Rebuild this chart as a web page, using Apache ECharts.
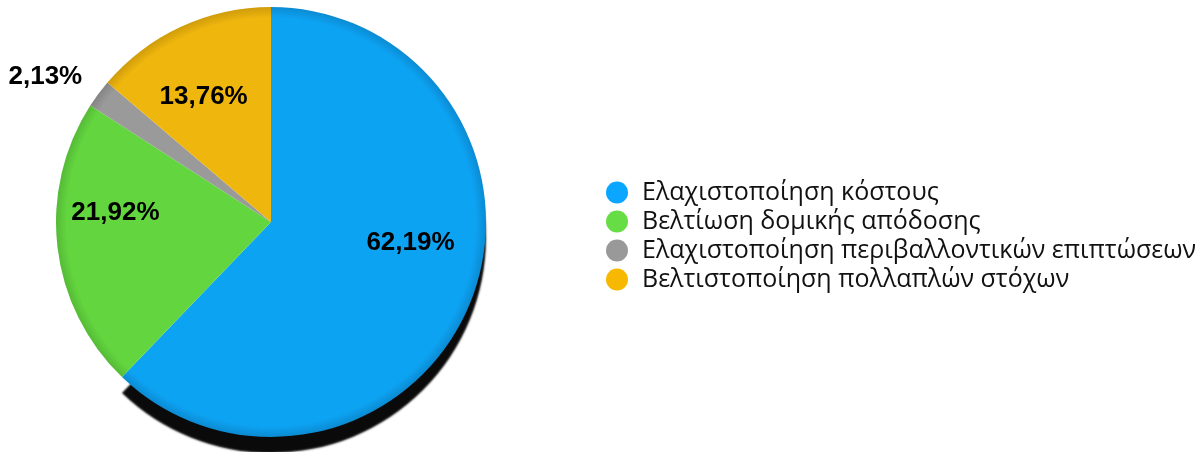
<!DOCTYPE html>
<html>
<head>
<meta charset="utf-8">
<script src="https://cdn.jsdelivr.net/npm/echarts@6/dist/echarts.min.js"></script>
<style>
  html, body { margin: 0; padding: 0; background: #ffffff; }
  #chart { width: 1198px; height: 452px; }
</style>
</head>
<body>
<div id="chart"></div>
<script>
// Share of each optimisation objective (percent)
var categories = [
  'Ελαχιστοποίηση κόστους',
  'Βελτίωση δομικής απόδοσης',
  'Ελαχιστοποίηση περιβαλλοντικών επιπτώσεων',
  'Βελτιστοποίηση πολλαπλών στόχων'
];
var shares = [62.19, 21.92, 2.13, 13.76];
var sliceColors = ['#0da3f3', '#63d63f', '#9a9a9a', '#efb60e'];
var rimColors = ['#0b8bd2', '#55ba36', '#848484', '#cf9c0b'];
var legendColors = ['#0aa6ff', '#66dd44', '#999999', '#f6b800'];

var CX = 271, CY = 222, R = 215;

function faceGradient(i) {
  return {
    type: 'radial', x: CX, y: CY, r: R, global: true,
    colorStops: [
      { offset: 0, color: sliceColors[i] },
      { offset: 0.95, color: sliceColors[i] },
      { offset: 1, color: rimColors[i] }
    ]
  };
}

function fmt(v) {
  return v.toFixed(2).replace('.', ',') + '%';
}

var pieData = categories.map(function (name, i) {
  var item = {
    name: name,
    value: shares[i],
    itemStyle: { color: faceGradient(i) }
  };
  if (i === 0) {
    // dark side of the disc, visible below the largest slice
    item.itemStyle.shadowColor = '#0a0a0a';
    item.itemStyle.shadowOffsetY = 16;
    item.itemStyle.shadowBlur = 2;
  }
  if (shares[i] < 5) {
    item.label = { position: 'outside' };
    item.labelLine = { show: false, length: 14, length2: 0 };
  }
  return item;
});

var chart = echarts.init(document.getElementById('chart'), null, { renderer: 'canvas' });
chart.setOption({
  animation: false,
  backgroundColor: '#ffffff',
  legend: {
    orient: 'vertical',
    left: 601,
    top: 175,
    icon: 'circle',
    itemWidth: 22,
    itemHeight: 22,
    itemGap: 4,
    selectedMode: false,
    data: categories.map(function (name, i) {
      return { name: name, itemStyle: { color: legendColors[i] } };
    }),
    textStyle: {
      fontFamily: 'Open Sans, Liberation Sans, sans-serif',
      fontSize: 25,
      lineHeight: 22,
      color: '#111111',
      padding: [0, 0, 0, 9]
    }
  },
  series: [{
    type: 'pie',
    center: [CX, CY],
    radius: [0, R],
    startAngle: 90,
    clockwise: true,
    avoidLabelOverlap: false,
    emphasis: { disabled: true },
    data: pieData,
    label: {
      show: true,
      position: 'inside',
      formatter: function (p) { return fmt(p.value); },
      fontFamily: 'Liberation Sans, Arial, sans-serif',
      fontWeight: 'bold',
      fontSize: 26,
      color: '#000000'
    },
    // tilted-disc look: push inner labels outward sideways and lift them a little
    labelLayout: function (p) {
      if (shares[p.dataIndex] < 5) { return { dy: -9 }; }
      var lx = p.labelRect.x + p.labelRect.width / 2;
      var ly = p.labelRect.y + p.labelRect.height / 2;
      return { dx: (lx - CX) * 0.39 - 3, dy: (ly - CY) * 0.03 - 22 };
    }
  }]
});
</script>
</body>
</html>
